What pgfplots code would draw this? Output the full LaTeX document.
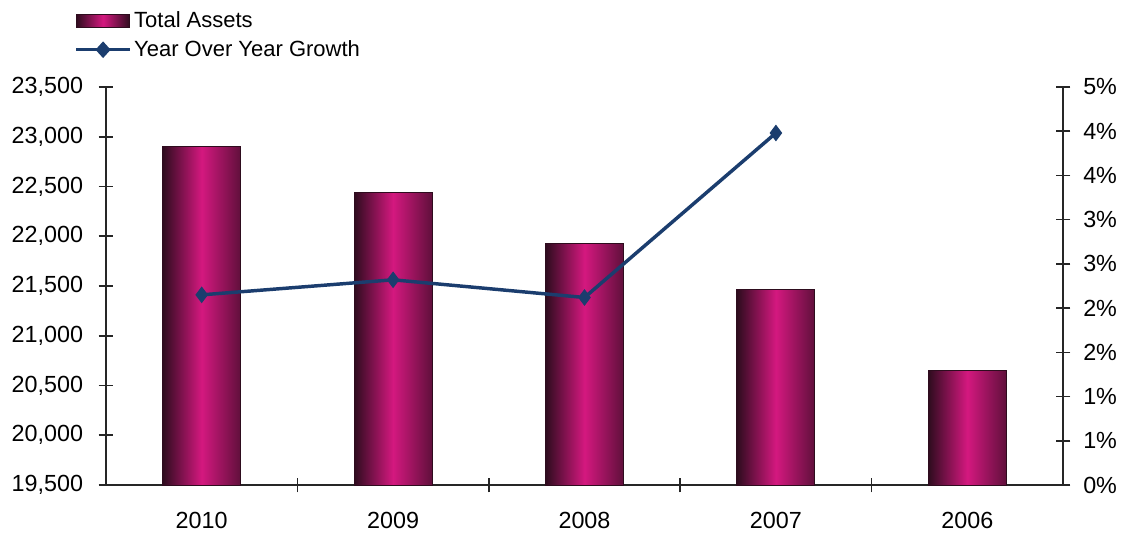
\documentclass[border=0pt]{standalone}
\usepackage{pgfplots}
\pgfplotsset{compat=1.18}
\usepackage{fontspec}
\setmainfont{Liberation Sans}

\definecolor{barmid}{HTML}{D4187F}
\definecolor{baredge}{HTML}{2E0C1E}
\definecolor{growth}{HTML}{1B3D6E}

\begin{document}
\fontsize{16.5}{19}\selectfont
\begin{tikzpicture}
\pgfplotsset{
  every axis/.append style={
    scale only axis,
    width=717.75pt, height=298.5pt,
    xmin=-0.5, xmax=4.5,
    tick align=center,
    major tick length=11pt,
    axis line style={line width=1.2pt, black!85},
    every tick/.style={line width=1.2pt, black!85},
    /pgf/number format/assume math mode=true,
    tick label style={font=\fontsize{17.5}{20}\selectfont},
  },
  assetbar/.style={
    ybar, bar width=58.5pt, bar shift=0pt,
    draw=baredge, line width=0.7pt,
    left color=baredge, right color=baredge!70!barmid, middle color=barmid,
  },
}
\begin{axis}[
  name=ax,
  axis x line*=bottom,
  axis y line*=left,
  ymin=19500, ymax=23500,
  ytick distance=500,
  scaled y ticks=false,
  y tick label style={/pgf/number format/1000 sep={,}, xshift=-6pt},
  xtick={0.5,1.5,2.5,3.5},
  xticklabels={},
  extra x ticks={0,1,2,3,4},
  extra x tick labels={2010,2009,2008,2007,2006},
  extra x tick style={major tick length=0pt},
  x tick label style={yshift=-15pt},
  legend style={
    at={(-0.033,1.197)}, anchor=north west,
    draw=none, fill=none,
    font=\fontsize{16.5}{19}\selectfont,
    row sep=3pt, inner sep=0pt,
    nodes={inner xsep=2pt},
  },
  legend cell align=left,
]
\addplot[
  assetbar,
  legend image code/.code={
    \draw[draw=baredge, line width=0.6pt, left color=baredge, right color=baredge, middle color=barmid] (0pt,-4.8pt) rectangle (40pt,4.8pt);
  },
] coordinates {(0, 22903)};
\addlegendentry{Total Assets}
\addplot[assetbar, forget plot] coordinates {(1, 22438)};
\addplot[assetbar, forget plot] coordinates {(2, 21923)};
\addplot[assetbar, forget plot] coordinates {(3, 21469)};
\addplot[assetbar, forget plot] coordinates {(4, 20652)};
\addlegendimage{
  legend image code/.code={
    \draw[growth, line width=2.6pt] (0pt,0pt) -- (40pt,0pt);
    \filldraw[growth, line width=1pt] (20pt,5.5pt) -- (25pt,0pt) -- (20pt,-5.5pt) -- (15pt,0pt) -- cycle;
  },
}
\addlegendentry{Year Over Year Growth}
\end{axis}

\begin{axis}[
  axis x line=none,
  axis y line*=right,
  ymin=0, ymax=4.5,
  ytick={0,0.5,1,1.5,2,2.5,3,3.5,4,4.5},
  yticklabels={0\%,1\%,1\%,2\%,2\%,3\%,3\%,4\%,4\%,5\%},
  y tick label style={xshift=4pt},
]
\addplot[growth, line width=2.6pt, mark=diamond*, mark size=5.5pt, mark options={solid, line width=1pt}] coordinates {
  (0, 2.15)
  (1, 2.32)
  (2, 2.12)
  (3, 3.98)
};
\end{axis}

\pgfresetboundingbox
\path ([shift={(-79.5pt,-38.25pt)}]ax.south west) rectangle ([shift={(48pt,65.25pt)}]ax.north east);
\end{tikzpicture}
\end{document}
